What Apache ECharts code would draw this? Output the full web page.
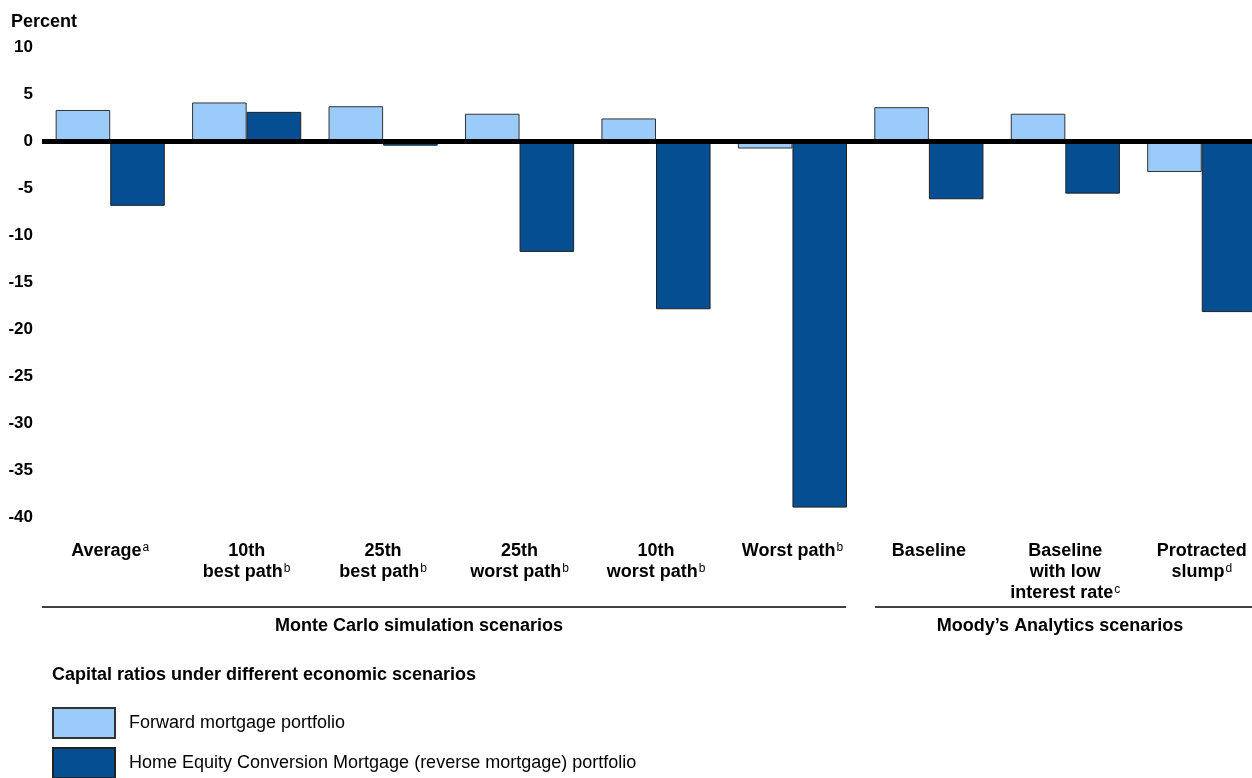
<!DOCTYPE html>
<html>
<head>
<meta charset="utf-8">
<script src="https://cdn.jsdelivr.net/npm/echarts@6/dist/echarts.min.js"></script>
<style>
  html, body { margin: 0; padding: 0; background: #fff; }
  #chart { width: 1252px; height: 778px; }
</style>
</head>
<body>
<div id="chart"></div>
<script>
const categories = ['Average', '10th\nbest path', '25th\nbest path', '25th\nworst path', '10th\nworst path',
  'Worst path', 'Baseline', 'Baseline\nwith low\ninterest rate', 'Protracted\nslump']
const notes = ['a', 'b', 'b', 'b', 'b', 'b', '', 'c', 'd']
const forwardValues = [3.3, 4.1, 3.7, 2.9, 2.4, -0.8, 3.6, 2.9, -3.3]
const hecmValues = [-6.9, 3.1, -0.5, -11.8, -17.9, -39.0, -6.2, -5.6, -18.2]
const seriesNames = ['Forward mortgage portfolio', 'Home Equity Conversion Mortgage (reverse mortgage) portfolio']
const groups = [
  { name: 'Monte Carlo simulation scenarios', from: 42, to: 846, labelX: 419 },
  { name: 'Moody\u2019s Analytics scenarios', from: 875, to: 1252, labelX: 1060 }
]

const font = 'Liberation Sans, Arial, sans-serif'
const chart = echarts.init(document.getElementById('chart'))

// group brackets under the category labels
const groupGraphics = []
groups.forEach(g => {
  groupGraphics.push({
    type: 'line', shape: { x1: g.from, y1: 607, x2: g.to, y2: 607 },
    style: { stroke: '#000', lineWidth: 1.5 }
  })
  groupGraphics.push({
    type: 'text', x: g.labelX, y: 626,
    style: { text: g.name, font: 'bold 18px ' + font, fill: '#000', align: 'center', verticalAlign: 'middle' }
  })
})

// one legend per row, stacked
const legends = seriesNames.map((name, i) => ({
  left: 52, top: 707 + i * 40, padding: 0, itemWidth: 62, itemHeight: 30,
  icon: 'rect', data: [name], selectedMode: false,
  textStyle: { fontFamily: font, fontSize: 18, color: '#000', padding: [0, 0, 0, 9] }
}))

const option = {
  animation: false,
  title: {
    text: 'Percent', left: 6, top: 8,
    textStyle: { fontFamily: font, fontSize: 18, fontWeight: 'bold', color: '#000' }
  },
  grid: { left: 42, top: 47, width: 1228, height: 470, outerBoundsMode: 'none', containLabel: false },
  legend: legends,
  xAxis: {
    type: 'category', data: categories, position: 'bottom',
    axisLine: { show: false, onZero: false }, axisTick: { show: false },
    axisLabel: {
      interval: 0, margin: 24, color: '#000', fontFamily: font, fontSize: 18, fontWeight: 'bold',
      lineHeight: 21, verticalAlign: 'top', hideOverlap: false,
      formatter: (v, i) => notes[i] ? v + '{sup|' + notes[i] + '}' : v,
      rich: { sup: { fontSize: 12, fontFamily: font, fontWeight: 'normal', color: '#000', padding: [0, 0, 8, 1] } }
    }
  },
  yAxis: {
    type: 'value', min: -40, max: 10, interval: 5,
    axisLine: { show: false }, axisTick: { show: false }, splitLine: { show: false },
    axisLabel: { margin: 9, color: '#000', fontFamily: font, fontSize: 17, fontWeight: 'bold' }
  },
  series: [
    {
      name: seriesNames[0], type: 'bar', data: forwardValues, barGap: 0, barCategoryGap: '20%',
      itemStyle: { color: '#9BCBFB', borderColor: '#333', borderWidth: 1 },
      markLine: {
        silent: true, symbol: 'none', label: { show: false },
        lineStyle: { color: '#000', width: 5, type: 'solid' },
        data: [{ yAxis: 0 }]
      }
    },
    {
      name: seriesNames[1], type: 'bar', data: hecmValues,
      itemStyle: { color: '#054E91', borderColor: '#222', borderWidth: 1 }
    }
  ],
  graphic: groupGraphics.concat([{
    type: 'text', x: 52, y: 675,
    style: { text: 'Capital ratios under different economic scenarios', font: 'bold 18px ' + font, fill: '#000', verticalAlign: 'middle' }
  }])
}
chart.setOption(option)
</script>
</body>
</html>
